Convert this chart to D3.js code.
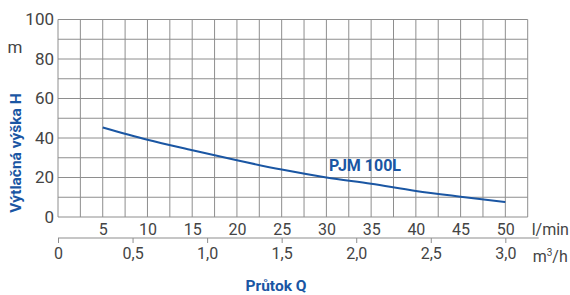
<!DOCTYPE html>
<html>
<head>
<meta charset="utf-8">
<script src="https://cdn.jsdelivr.net/npm/d3@7"></script>
<style>
  body { margin: 0; background: #fff; }
  text { font-family: Roboto, sans-serif; }
</style>
</head>
<body>
<div id="chart"></div>
<script>
// data
const flowLmin = [5, 10, 15, 20, 25, 30, 35, 40, 45, 50];
const headM = [45.3, 39.1, 33.8, 28.7, 24.0, 20.0, 16.8, 13.2, 10.3, 7.6];
const seriesName = "PJM 100L";
const yTicks = [0, 20, 40, 60, 80, 100];
const lminTicks = [5, 10, 15, 20, 25, 30, 35, 40, 45, 50];
const m3hTicks = [0, 0.5, 1.0, 1.5, 2.0, 2.5, 3.0];

const blue = "#1a56a3";
const textGray = "#444";
const gridGray = "#8e8e8e";

const dimensions = {
  width: 570,
  height: 295,
  margin: { top: 19.5, right: 42.3, bottom: 78, left: 58 }
};
dimensions.boundedWidth = dimensions.width - dimensions.margin.left - dimensions.margin.right;
dimensions.boundedHeight = dimensions.height - dimensions.margin.top - dimensions.margin.bottom;

const svg = d3.select("#chart").append("svg")
  .attr("width", dimensions.width)
  .attr("height", dimensions.height);

const bounds = svg.append("g")
  .attr("transform", `translate(${dimensions.margin.left},${dimensions.margin.top})`);

// scales
const xScale = d3.scaleLinear().domain([0, 52.5]).range([0, dimensions.boundedWidth]);
const yScale = d3.scaleLinear().domain([0, 100]).range([dimensions.boundedHeight, 0]);
const x2Scale = d3.scaleLinear().domain([0, 52.5 * 0.06]).range([0, dimensions.boundedWidth]);

// grid
const gridX = d3.range(0, 52.5 + 0.01, 2.5);
const gridY = d3.range(0, 100 + 0.01, 10);

bounds.append("g").selectAll("line")
  .data(gridX)
  .join("line")
    .attr("x1", d => xScale(d)).attr("x2", d => xScale(d))
    .attr("y1", 0).attr("y2", dimensions.boundedHeight)
    .attr("stroke", gridGray).attr("stroke-width", 1);

bounds.append("g").selectAll("line")
  .data(gridY)
  .join("line")
    .attr("y1", d => yScale(d)).attr("y2", d => yScale(d))
    .attr("x1", 0).attr("x2", dimensions.boundedWidth)
    .attr("stroke", gridGray).attr("stroke-width", 1);

// y axis labels
const yAxis = d3.axisLeft(yScale).tickValues(yTicks).tickSize(0).tickPadding(4);
const yAxisG = bounds.append("g").call(yAxis);
yAxisG.select(".domain").remove();
yAxisG.selectAll("text")
  .attr("font-size", 17).attr("fill", textGray).attr("font-family", "Roboto, sans-serif");

// l/min labels
const xAxis = d3.axisBottom(xScale).tickValues(lminTicks).tickSize(0).tickPadding(7);
const xAxisG = bounds.append("g")
  .attr("transform", `translate(0,${dimensions.boundedHeight})`)
  .call(xAxis);
xAxisG.select(".domain").remove();
xAxisG.selectAll("text")
  .attr("font-size", 16).attr("fill", textGray).attr("font-family", "Roboto, sans-serif");

// m3/h axis
const axis2Y = dimensions.boundedHeight + 21;
const x2Axis = d3.axisBottom(x2Scale).tickValues(m3hTicks).tickSize(5).tickPadding(5)
  .tickFormat(d => d === 0 ? "0" : d3.format(".1f")(d).replace(".", ","));
const x2AxisG = bounds.append("g")
  .attr("transform", `translate(0,${axis2Y})`)
  .call(x2Axis);
x2AxisG.select(".domain").remove();
x2AxisG.selectAll("line").attr("stroke", gridGray);
x2AxisG.selectAll("text")
  .attr("font-size", 16).attr("fill", textGray).attr("font-family", "Roboto, sans-serif");
x2AxisG.append("line")
  .attr("x1", 0).attr("x2", dimensions.boundedWidth + 11)
  .attr("stroke", gridGray).attr("stroke-width", 1.2);

// units
bounds.append("text")
  .attr("x", dimensions.boundedWidth + 4)
  .attr("y", dimensions.boundedHeight + 18)
  .attr("font-size", 16).attr("fill", textGray)
  .text("l/min");

const m3 = bounds.append("text")
  .attr("x", dimensions.boundedWidth + 5)
  .attr("y", axis2Y + 24)
  .attr("font-size", 16).attr("fill", textGray);
m3.append("tspan").text("m");
m3.append("tspan").attr("font-size", 10).attr("dy", -6).text("3");
m3.append("tspan").attr("dy", 6).text("/h");

svg.append("text")
  .attr("x", 15).attr("y", 53)
  .attr("text-anchor", "middle")
  .attr("font-size", 17).attr("fill", textGray)
  .text("m");

// titles
svg.append("text")
  .attr("transform", "translate(21,153) rotate(-90)")
  .attr("text-anchor", "middle")
  .attr("font-size", 15.5).attr("font-weight", "bold").attr("fill", blue)
  .text("Výtlačná výška H");

svg.append("text")
  .attr("x", 276).attr("y", 291)
  .attr("text-anchor", "middle")
  .attr("font-size", 15.5).attr("font-weight", "bold").attr("fill", blue)
  .text("Průtok Q");

// curve
const data = flowLmin.map((q, i) => ({ q, h: headM[i] }));
const line = d3.line()
  .x(d => xScale(d.q))
  .y(d => yScale(d.h))
  .curve(d3.curveMonotoneX);

bounds.append("path")
  .datum(data)
  .attr("d", line)
  .attr("fill", "none")
  .attr("stroke", blue)
  .attr("stroke-width", 2);

bounds.append("text")
  .attr("x", xScale(30.3))
  .attr("y", yScale(23.2))
  .attr("font-size", 16).attr("font-weight", "bold").attr("fill", blue)
  .text(seriesName);
</script>
</body>
</html>
